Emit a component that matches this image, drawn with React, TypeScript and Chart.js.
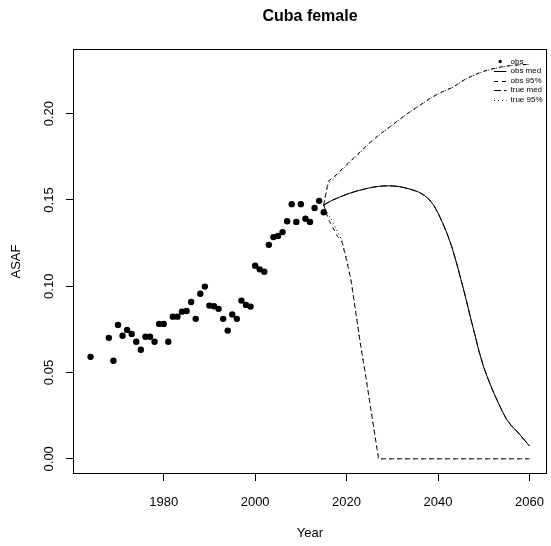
import React, { useEffect, useRef } from "react";
import { Chart, registerables } from "chart.js";

Chart.register(...registerables);

const TITLE = "Cuba female";
const X_LABEL = "Year";
const Y_LABEL = "ASAF";
const xTicks = [1980, 2000, 2020, 2040, 2060];
const yTicks = [0, 0.05, 0.1, 0.15, 0.2];
const yTickLabels = ["0.00", "0.05", "0.10", "0.15", "0.20"];
const legendLabels = ["obs", "obs med", "obs 95%", "true med", "true 95%"];

const obsYears = [
  1964, 1968, 1969, 1970, 1971, 1972, 1973, 1974, 1975, 1976, 1977, 1978, 1979,
  1980, 1981, 1982, 1983, 1984, 1985, 1986, 1987, 1988, 1989, 1990, 1991, 1992,
  1993, 1994, 1995, 1996, 1997, 1998, 1999, 2000, 2001, 2002, 2003, 2004, 2005,
  2006, 2007, 2008, 2009, 2010, 2011, 2012, 2013, 2014, 2015,
];
const obsValues = [
  0.0591, 0.0701, 0.0568, 0.0776, 0.0713, 0.0747, 0.0724, 0.0678, 0.0632, 0.0707,
  0.0707, 0.0678, 0.0782, 0.0782, 0.0678, 0.0824, 0.0824, 0.0853, 0.0857, 0.0909,
  0.0811, 0.0957, 0.0998, 0.0888, 0.0884, 0.0869, 0.0811, 0.0743, 0.0836, 0.0811,
  0.0917, 0.0892, 0.0882, 0.1119, 0.1098, 0.1084, 0.124, 0.1285, 0.1291, 0.1314,
  0.1377, 0.1476, 0.1373, 0.1476, 0.1391, 0.1373, 0.1454, 0.1495, 0.1429,
];

const projYears = [
  2015, 2016, 2017, 2018, 2019, 2020, 2021, 2022, 2023, 2024, 2025, 2026, 2027,
  2028, 2029, 2030, 2031, 2032, 2033, 2034, 2035, 2036, 2037, 2038, 2039, 2040,
  2041, 2042, 2043, 2044, 2045, 2046, 2047, 2048, 2049, 2050, 2051, 2052, 2053,
  2054, 2055, 2056, 2057, 2058, 2059, 2060,
];
const obsMed = [
  0.147, 0.1487, 0.15, 0.1512, 0.1522, 0.1533, 0.1542, 0.155, 0.1557, 0.1564,
  0.157, 0.1575, 0.1579, 0.1581, 0.1582, 0.1582, 0.1579, 0.1575, 0.1569, 0.1562,
  0.1554, 0.1543, 0.1527, 0.1505, 0.1472, 0.1425, 0.1368, 0.1305, 0.123, 0.114,
  0.104, 0.0939, 0.083, 0.0725, 0.062, 0.053, 0.046, 0.0393, 0.0335, 0.0278,
  0.0228, 0.0193, 0.0166, 0.0137, 0.0105, 0.0074,
];
const obsUpper = [
  0.147, 0.161, 0.1628, 0.1652, 0.168, 0.1705, 0.173, 0.1755, 0.178, 0.1805,
  0.183, 0.1852, 0.1875, 0.1895, 0.1915, 0.1935, 0.1955, 0.1975, 0.1995, 0.2013,
  0.2031, 0.2048, 0.2066, 0.2085, 0.21, 0.2115, 0.2128, 0.214, 0.215, 0.2166,
  0.2185, 0.22, 0.2213, 0.2225, 0.2236, 0.2246, 0.2254, 0.2261, 0.2267, 0.2272,
  0.2276, 0.2279, 0.2282, 0.2284, 0.2285, 0.2286,
];
const obsLower = [
  0.147, 0.139, 0.134, 0.129, 0.1255, 0.115, 0.103, 0.085, 0.067, 0.051,
  0.034, 0.017, 0, 0, 0, 0, 0, 0, 0, 0, 0, 0, 0, 0, 0, 0, 0, 0, 0, 0, 0, 0, 0,
  0, 0, 0, 0, 0, 0, 0, 0, 0, 0, 0, 0, 0,
];
const trueMed = [
  0.147, 0.1486, 0.15, 0.1511, 0.1522, 0.1532, 0.1541, 0.155, 0.1557, 0.1564,
  0.157, 0.1575, 0.1579, 0.1581, 0.1582, 0.1581, 0.1579, 0.1575, 0.1569, 0.1562,
  0.1553, 0.1542, 0.1527, 0.1504, 0.1472, 0.1425, 0.1367, 0.1304, 0.123, 0.1141,
  0.1041, 0.094, 0.0831, 0.0726, 0.0621, 0.0531, 0.046, 0.0394, 0.0336, 0.0279,
  0.0229, 0.0194, 0.0166, 0.0137, 0.0106, 0.0075,
];
const trueUpper = [
  0.147, 0.1598, 0.1618, 0.1644, 0.1673, 0.1699, 0.1725, 0.1751, 0.1776, 0.1802,
  0.1827, 0.185, 0.1873, 0.1894, 0.1914, 0.1934, 0.1954, 0.1974, 0.1994, 0.2012,
  0.203, 0.2047, 0.2065, 0.2084, 0.2099, 0.2114, 0.2127, 0.2139, 0.215, 0.2165,
  0.2184, 0.2199, 0.2212, 0.2224, 0.2235, 0.2245, 0.2253, 0.226, 0.2266, 0.2271,
  0.2275, 0.2279, 0.2282, 0.2284, 0.2285, 0.2286,
];
const trueLower = [
  0.147, 0.1415, 0.1375, 0.1315, 0.1265, 0.116, 0.1035, 0.0855, 0.0672, 0.0512,
  0.0342, 0.0172, 0, 0, 0, 0, 0, 0, 0, 0, 0, 0, 0, 0, 0, 0, 0, 0, 0, 0, 0, 0, 0,
  0, 0, 0, 0, 0, 0, 0, 0, 0, 0, 0, 0, 0,
];

const FONT = "'Liberation Sans', Arial, Helvetica, sans-serif";

const pts = (xs: number[], ys: number[]) => xs.map((x, i) => ({ x, y: ys[i] }));

const legendDashes: (number[] | null)[] = [null, [], [4, 4], [7, 3], [1, 3]];

const rPlotPlugin = {
  id: "rPlot",
  afterDraw(chart: any) {
    const { ctx, chartArea: a, scales } = chart;
    const y = scales.y;
    ctx.save();
    // plot box
    ctx.strokeStyle = "#000";
    ctx.lineWidth = 1;
    ctx.setLineDash([]);
    ctx.strokeRect(Math.round(a.left) + 0.5, Math.round(a.top) + 0.5, Math.round(a.width) - 1, Math.round(a.height) - 1);
    // y tick labels (rotated like R)
    ctx.fillStyle = "#000";
    ctx.font = `13px ${FONT}`;
    ctx.textAlign = "center";
    ctx.textBaseline = "middle";
    yTicks.forEach((v, i) => {
      const py = y.getPixelForValue(v);
      ctx.save();
      ctx.translate(a.left - 24, py);
      ctx.rotate(-Math.PI / 2);
      ctx.fillText(yTickLabels[i], 0, 0);
      ctx.restore();
    });
    // legend (top-right, no box)
    const rowY0 = a.top + 12.5;
    const rowH = 9.5;
    const sx0 = a.right - 53;
    const sx1 = a.right - 40.5;
    const tx = a.right - 36.5;
    ctx.font = `8px ${FONT}`;
    ctx.textAlign = "left";
    legendLabels.forEach((lab, i) => {
      const ry = rowY0 + i * rowH;
      const dash = legendDashes[i];
      if (dash === null) {
        ctx.beginPath();
        ctx.arc((sx0 + sx1) / 2, ry, 1.7, 0, Math.PI * 2);
        ctx.fill();
      } else {
        ctx.beginPath();
        ctx.setLineDash(dash);
        ctx.moveTo(sx0, Math.round(ry) + 0.5);
        ctx.lineTo(sx1, Math.round(ry) + 0.5);
        ctx.stroke();
        ctx.setLineDash([]);
      }
      ctx.fillText(lab, tx, ry);
    });
    ctx.restore();
  },
};

export default function App() {
  const ref = useRef<HTMLCanvasElement | null>(null);
  useEffect(() => {
    document.body.style.margin = "0";
    const canvas = ref.current;
    if (!canvas) return;
    const lineDs = (label: string, ys: number[], dash: number[]) => ({
      type: "scatter" as const,
      label,
      data: pts(projYears, ys),
      showLine: true,
      borderColor: "#000",
      backgroundColor: "#000",
      borderWidth: 1,
      borderDash: dash,
      pointRadius: 0,
      tension: 0,
    });
    const chart = new Chart(canvas, {
      type: "scatter",
      data: {
        datasets: [
          {
            label: "obs",
            data: pts(obsYears, obsValues),
            pointRadius: 3.2,
            pointBackgroundColor: "#000",
            pointBorderWidth: 0,
            backgroundColor: "#000",
            borderColor: "#000",
          },
          lineDs("obs med", obsMed, []),
          lineDs("obs 95% upper", obsUpper, [4, 4]),
          lineDs("obs 95% lower", obsLower, [4, 4]),
          lineDs("true med", trueMed, [7, 3]),
          lineDs("true 95% upper", trueUpper, [1, 3]),
          lineDs("true 95% lower", trueLower, [1, 3]),
        ],
      },
      options: {
        responsive: false,
        animation: false,
        devicePixelRatio: 1,
        layout: { padding: { left: 0, right: 3, top: 0, bottom: 0 } },
        plugins: {
          legend: { display: false },
          tooltip: { enabled: false },
          title: {
            display: true,
            text: TITLE,
            color: "#000",
            fullSize: false,
            font: { family: FONT, size: 16, weight: "bold" },
            padding: { top: 7.4, bottom: 22.4 },
          },
        },
        scales: {
          x: {
            type: "linear",
            min: 1960.16,
            max: 2063.84,
            afterBuildTicks: (s: any) => {
              s.ticks = xTicks.map((v) => ({ value: v }));
            },
            afterFit: (s: any) => {
              s.height = 72;
              s.paddingLeft = 0;
              s.paddingRight = 0;
            },
            border: { display: false },
            grid: {
              drawOnChartArea: false,
              drawTicks: true,
              tickLength: 7,
              color: "#000",
              lineWidth: 1,
            },
            ticks: {
              color: "#000",
              font: { family: FONT, size: 13 },
              padding: 14,
              maxRotation: 0,
              autoSkip: false,
              callback: (v: any) => String(v),
            },
            title: {
              display: true,
              text: X_LABEL,
              color: "#000",
              font: { family: FONT, size: 13 },
              padding: { top: 0, bottom: 5.2 },
            },
          },
          y: {
            type: "linear",
            min: -0.0088,
            max: 0.2375,
            afterBuildTicks: (s: any) => {
              s.ticks = yTicks.map((v) => ({ value: v }));
            },
            afterFit: (s: any) => {
              s.width = 73;
              s.paddingTop = 0;
              s.paddingBottom = 0;
            },
            border: { display: false },
            grid: {
              drawOnChartArea: false,
              drawTicks: true,
              tickLength: 7,
              color: "#000",
              lineWidth: 1,
            },
            ticks: { display: false },
            title: {
              display: true,
              text: Y_LABEL,
              color: "#000",
              font: { family: FONT, size: 13 },
              padding: { top: 8.2, bottom: 0 },
            },
          },
        },
      },
      plugins: [rPlotPlugin],
    });
    return () => chart.destroy();
  }, []);
  return (
    <div style={{ width: 551, height: 546, background: "#fff" }}>
      <canvas ref={ref} width={551} height={546} style={{ display: "block" }} />
    </div>
  );
}
